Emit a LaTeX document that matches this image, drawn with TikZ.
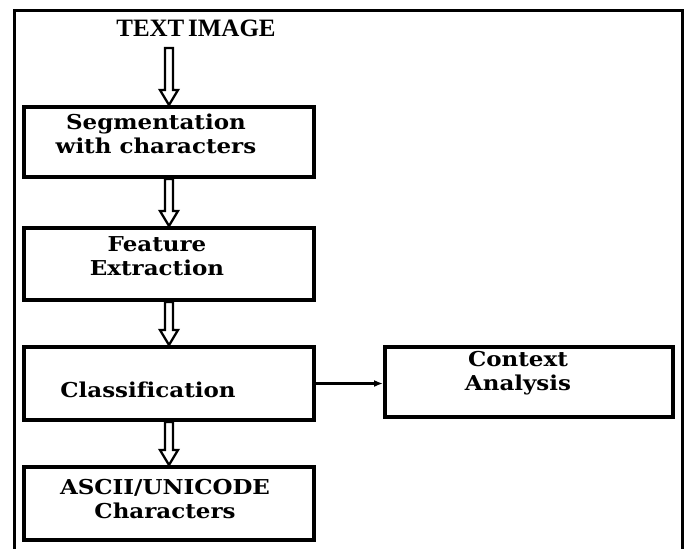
\documentclass[tikz,border=0pt]{standalone}
\usepackage{fontspec}
\setmainfont{DejaVu Serif}[FakeStretch=1.12,Ligatures=NoCommon]
\newfontfamily\titlefont{Liberation Serif}
\usetikzlibrary{calc,arrows.meta}
\tikzset{
  box/.style={draw=black, line width=4pt, minimum width=290pt, minimum height=70pt, inner sep=0pt},
  boxtext/.style={align=center, inner sep=0pt, font=\fontsize{20.5}{23.5}\selectfont\bfseries},
  hollowarrow/.style={draw=black, line width=2.3pt, fill=white, line join=miter,
    to path={($(\tikztostart)+(-4,0)$) -- ($(\tikztotarget)+(-4,-15)$) -- ($(\tikztotarget)+(-9,-15)$) -- (\tikztotarget) -- ($(\tikztotarget)+(9,-15)$) -- ($(\tikztotarget)+(4,-15)$) -- ($(\tikztostart)+(4,0)$) -- cycle}},
  thinarrow/.style={draw=black, line width=2.3pt, -{Latex[length=9pt,width=7pt]}}
}
\begin{document}
\begin{tikzpicture}[x=1pt,y=-1pt]
\useasboundingbox (0,0) rectangle (686,549);
\fill[white] (0,0) rectangle (686,549);
% frame
\draw[line width=3pt] (14,549) -- (14,10) -- (682,10) -- (682,549);
% title
\node[inner sep=0pt, font=\titlefont\fontsize{25}{28}\selectfont\bfseries] (title) at (196,28) {TEXT\hspace{0.15em}IMAGE};
\coordinate (tstart) at (169,48);
% boxes
\node[box] (seg) at (169,142) {};
\node[box, minimum height=72pt] (feat) at (169,264) {};
\node[box, minimum height=73pt] (cls) at (169,383.5) {};
\node[box, minimum width=288pt] (ctx) at (529,382) {};
\node[box, minimum height=73pt] (asc) at (169,503.5) {};
% texts
\node[boxtext] (segt) at (156,134) {Segmentation\\with characters};
\node[boxtext] (featt) at (157,256) {Feature\\Extraction};
\node[boxtext] (clst) at (148,390) {Classification};
\node[boxtext] (ctxt) at (518,373) {Context\\Analysis};
\node[boxtext] (asct) at (165,499) {ASCII/UNICODE\\Characters};
% connectors
\draw[hollowarrow] (tstart) to (seg.north);
\draw[hollowarrow] (seg.south) to (feat.north);
\draw[hollowarrow] (feat.south) to (cls.north);
\draw[hollowarrow] (cls.south) to (asc.north);
\draw[thinarrow] (cls.east) -- (cls.east -| ctx.west);
\end{tikzpicture}
\end{document}
